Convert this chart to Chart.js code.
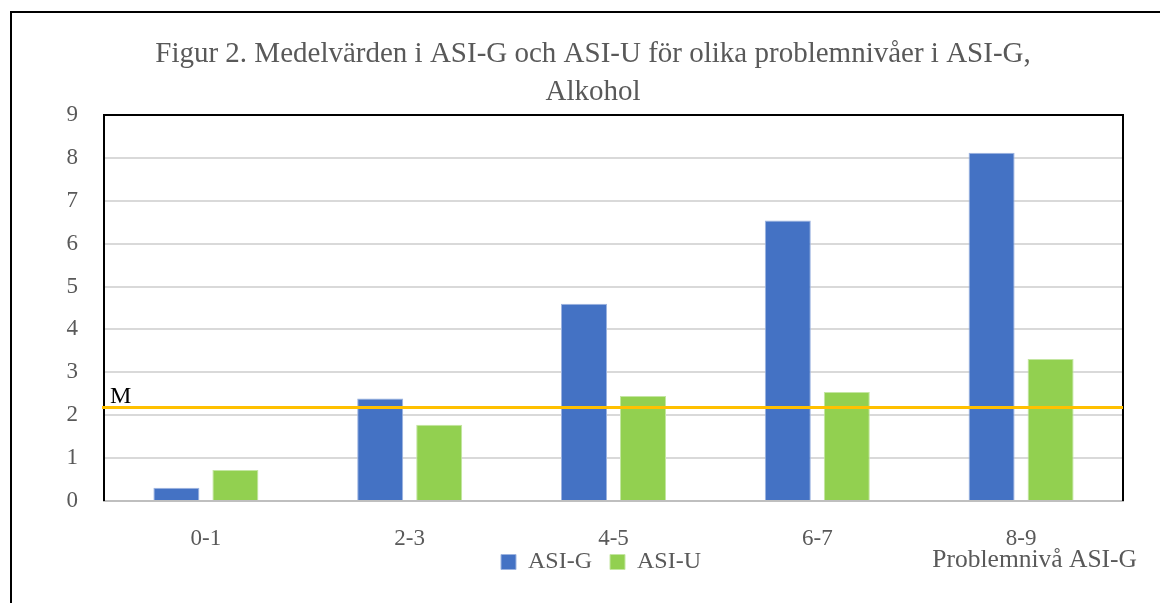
<!DOCTYPE html>
<html>
<head>
<meta charset="utf-8">
<script src="https://cdn.jsdelivr.net/npm/chart.js@4"></script>
<style>
  html, body { margin: 0; padding: 0; background: #fff; overflow: hidden; width: 1160px; height: 603px; }
  #frame { position: absolute; left: 10px; top: 11px; width: 1200px; height: 700px; border-left: 2px solid #000; border-top: 2px solid #000; }
  #chart { position: absolute; left: 0; top: 0; }
</style>
</head>
<body>
<div id="frame"></div>
<canvas id="chart" width="1186" height="603"></canvas>
<script>
const levels = ["0-1", "2-3", "4-5", "6-7", "8-9"];
const asiG = [0.31, 2.39, 4.6, 6.54, 8.12];
const asiU = [0.72, 1.78, 2.45, 2.54, 3.31];
const meanValue = 2.18;
const titleLines = ["Figur 2. Medelvärden i ASI-G och ASI-U för olika problemnivåer i ASI-G,", "Alkohol"];
const xAxisTitle = "Problemnivå ASI-G";

const serif = "'Liberation Serif', 'DejaVu Serif', serif";
const textGrey = "#595959";

// plot frame, mean line and the loose labels
const extras = {
    id: "extras",
    afterLayout(chart) {
        // legend sits on the same row as the axis title in the original
        const lg = chart.legend;
        lg.top -= 19;
        lg.bottom -= 19;
        lg.left += 8;
        lg.right += 8;
    },
    beforeDatasetsDraw(chart) {
        const { ctx, chartArea } = chart;
        ctx.save();
        ctx.strokeStyle = "#000";
        ctx.lineWidth = 2;
        ctx.beginPath();
        ctx.moveTo(chartArea.left, chartArea.bottom);
        ctx.lineTo(chartArea.left, chartArea.top);
        ctx.lineTo(chartArea.right, chartArea.top);
        ctx.lineTo(chartArea.right, chartArea.bottom);
        ctx.stroke();
        ctx.restore();
    },
    afterDatasetsDraw(chart) {
        const { ctx, chartArea, scales } = chart;
        const y = scales.y.getPixelForValue(meanValue);
        ctx.save();
        ctx.strokeStyle = "#FFC000";
        ctx.lineWidth = 3;
        ctx.beginPath();
        ctx.moveTo(chartArea.left - 2, y);
        ctx.lineTo(chartArea.right, y);
        ctx.stroke();

        ctx.fillStyle = "#000";
        ctx.font = "24px " + serif;
        ctx.textBaseline = "alphabetic";
        ctx.textAlign = "left";
        ctx.fillText("M", chartArea.left + 6, y - 5);

        ctx.fillStyle = textGrey;
        ctx.font = "25.5px " + serif;
        ctx.textAlign = "right";
        ctx.textBaseline = "middle";
        ctx.fillText(xAxisTitle, chartArea.right + 14, 560);
        ctx.restore();
    }
};

new Chart(document.getElementById("chart").getContext("2d"), {
    type: "bar",
    data: {
        labels: levels,
        datasets: [
            { label: "ASI-G", data: asiG, backgroundColor: "#4472C4", borderColor: "#9db4e0", borderWidth: 1 },
            { label: "ASI-U", data: asiU, backgroundColor: "#92D050", borderColor: "#c4e6a2", borderWidth: 1 }
        ]
    },
    options: {
        responsive: false,
        animation: false,
        categoryPercentage: 0.579,
        barPercentage: 0.78,
        layout: { padding: 0 },
        plugins: {
            title: {
                display: true,
                text: titleLines,
                color: textGrey,
                font: { family: serif, size: 29, weight: "normal", lineHeight: 38 / 29 },
                padding: { top: 35, bottom: 4 }
            },
            legend: {
                position: "bottom",
                labels: {
                    color: textGrey,
                    font: { family: serif, size: 24 },
                    boxWidth: 15,
                    boxHeight: 15,
                    padding: 18
                }
            },
            tooltip: { enabled: false }
        },
        scales: {
            x: {
                grid: { display: false, drawTicks: false },
                border: { display: true, color: "#BFBFBF", width: 2 },
                ticks: { color: textGrey, font: { family: serif, size: 23 }, padding: 24 },
                afterFit(scale) { scale.height = 50; }
            },
            y: {
                min: 0,
                max: 9,
                ticks: { stepSize: 1, color: textGrey, font: { family: serif, size: 23 }, padding: 26 },
                grid: { color: "#D9D9D9", lineWidth: 2, drawTicks: false },
                border: { display: false },
                afterFit(scale) { scale.width = 104; }
            },
            // empty right-hand axis, only keeps room on the right side
            yRight: {
                position: "right",
                min: 0,
                max: 9,
                grid: { display: false, drawTicks: false },
                border: { display: false },
                ticks: { display: false },
                afterFit(scale) { scale.width = 63; }
            }
        }
    },
    plugins: [extras]
});
</script>
</body>
</html>
